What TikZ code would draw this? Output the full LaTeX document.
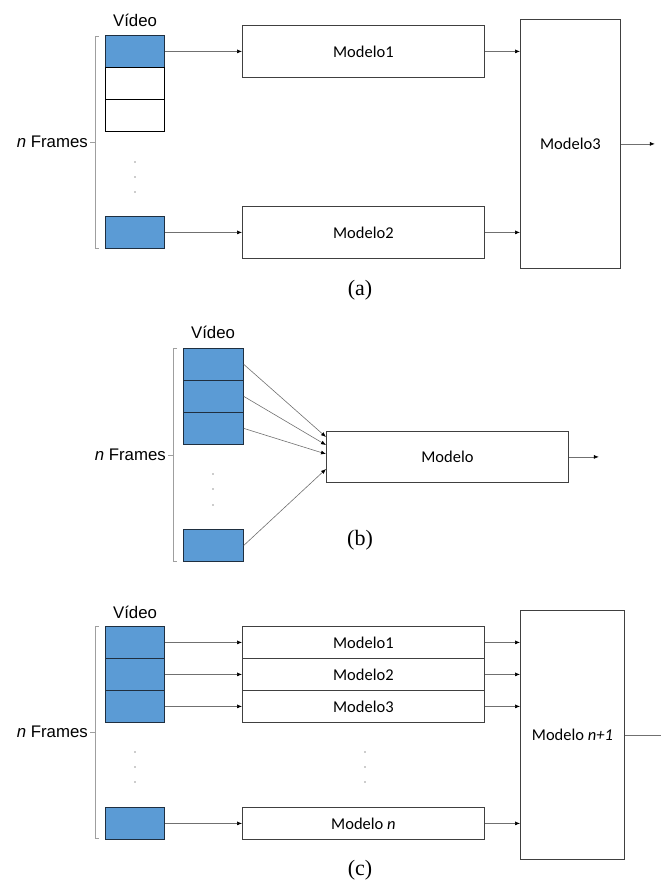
\documentclass[tikz,border=0pt]{standalone}
\usepackage{fontspec}
\usetikzlibrary{arrows.meta}
\newfontfamily\arialf{Liberation Sans}
\newfontfamily\calibf{Carlito}
\newfontfamily\timesf{Liberation Serif}
\definecolor{frameblue}{HTML}{5B9BD5}
\definecolor{frameedge}{HTML}{1F2F40}
\definecolor{boxedge}{HTML}{404040}
\definecolor{wire}{HTML}{707070}
\tikzset{
  framebox/.style={draw=frameedge, fill=frameblue, line width=0.8pt, inner sep=0pt,
    minimum width=59pt, minimum height=32pt, anchor=north west},
  blankframe/.style={framebox, draw=black, fill=white},
  modelbox/.style={draw=boxedge, fill=white, line width=0.8pt, inner sep=0pt,
    anchor=north west, font=\calibf\fontsize{16.5}{18}\selectfont},
  conn/.style={draw=wire, line width=0.6pt, -{Latex[length=5pt,width=4pt,color=black]}},
  plainwire/.style={draw=wire, line width=0.6pt},
  brace/.style={draw=gray!75, line width=0.8pt},
  sanslabel/.style={font=\arialf\fontsize{16.8}{18}\selectfont, inner sep=0pt},
  caption/.style={font=\timesf\fontsize{22}{24}\selectfont, inner sep=0pt},
  vdot/.style={fill=gray!80, draw=none, circle, inner sep=0pt, minimum size=1.6pt},
}
\begin{document}
\begin{tikzpicture}[x=1pt, y=-1pt]
\useasboundingbox (0,0) rectangle (661,882);

% ---------- (a) ----------
\node[sanslabel] (va) at (135,20) {Vídeo};
\node[framebox] (a1) at (105,35) {};
\node[blankframe] (a2) at (105,67) {};
\node[blankframe] (a3) at (105,99) {};
\node[framebox] (a4) at (105,216) {};
\foreach \yy [count=\i] in {162,177,192} \node[vdot] (ad\i) at (135,\yy) {};
\draw[brace] (99,36) -- (95,36) -- (95,248) -- (99,248) (95,142) -- (90,142);
\node[sanslabel, anchor=east] (nfa) at (88,142) {\textit{n} Frames};

\node[modelbox, minimum width=242pt, minimum height=52pt] (ma1) at (242,25) {Modelo1};
\node[modelbox, minimum width=242pt, minimum height=52pt] (ma2) at (242,206) {Modelo2};
\node[modelbox, minimum width=100pt, minimum height=249pt] (ma3) at (520,19) {Modelo3};

\draw[conn] (a1.east) -- (ma1.west);
\draw[conn] (a4.east) -- (ma2.west);
\draw[conn] (ma1.east) -- (ma1.east -| ma3.west);
\draw[conn] (ma2.east) -- (ma2.east -| ma3.west);
\coordinate (outa) at ([xshift=34pt]ma3.east);
\draw[conn] (ma3.east) -- (outa);
\node[caption] (capa) at (360,290) {(a)};

% ---------- (b) ----------
\node[sanslabel] (vb) at (213,332) {Vídeo};
\node[framebox, minimum width=60pt] (b1) at (183,348) {};
\node[framebox, minimum width=60pt] (b2) at (183,380) {};
\node[framebox, minimum width=60pt] (b3) at (183,412) {};
\node[framebox, minimum width=60pt] (b4) at (183,529) {};
\foreach \yy [count=\i] in {474,489,505} \node[vdot] (bd\i) at (213,\yy) {};
\draw[brace] (177,348) -- (173,348) -- (173,561) -- (177,561) (173,455) -- (168,455);
\node[sanslabel, anchor=east] (nfb) at (166,455) {\textit{n} Frames};

\node[modelbox, minimum width=242pt, minimum height=51pt] (mb) at (326,431) {Modelo};
\coordinate (tb1) at ([yshift=-6pt]mb.north west);
\coordinate (tb2) at ([yshift=-14pt]mb.north west);
\coordinate (tb3) at ([yshift=-23pt]mb.north west);
\coordinate (tb4) at ([yshift=-38pt]mb.north west);
\draw[conn] (b1.east) -- (tb1);
\draw[conn] (b2.east) -- (tb2);
\draw[conn] (b3.east) -- (tb3);
\draw[conn] (b4.east) -- (tb4);
\coordinate (outb) at ([xshift=30pt]mb.east);
\draw[conn] (mb.east) -- (outb);
\node[caption] (capb) at (360,540) {(b)};

% ---------- (c) ----------
\node[sanslabel] (vc) at (135,612) {Vídeo};
\node[framebox] (c1) at (105,626) {};
\node[framebox] (c2) at (105,658) {};
\node[framebox] (c3) at (105,690) {};
\node[framebox] (c4) at (105,807) {};
\foreach \yy [count=\i] in {752,767,782} {
  \node[vdot] (cd\i) at (135,\yy) {};
  \node[vdot] (md\i) at (365,\yy) {};
}
\draw[brace] (99,626) -- (95,626) -- (95,838) -- (99,838) (95,732) -- (90,732);
\node[sanslabel, anchor=east] (nfc) at (88,732) {\textit{n} Frames};

\node[modelbox, minimum width=242pt, minimum height=32pt] (mc1) at (242,626) {Modelo1};
\node[modelbox, minimum width=242pt, minimum height=32pt] (mc2) at (242,658) {Modelo2};
\node[modelbox, minimum width=242pt, minimum height=32pt] (mc3) at (242,690) {Modelo3};
\node[modelbox, minimum width=242pt, minimum height=32pt] (mc4) at (242,807) {Modelo \textit{n}};
\node[modelbox, minimum width=104pt, minimum height=249pt] (mcn) at (520,610) {Modelo \textit{n+1}};

\foreach \i in {1,2,3,4} {
  \draw[conn] (c\i.east) -- (mc\i.west);
  \draw[conn] (mc\i.east) -- (mc\i.east -| mcn.west);
}
\coordinate (outc) at (661,734);
\draw[plainwire] (mcn.east) -- (mcn.east -| outc);
\node[caption] (capc) at (360,870) {(c)};
\end{tikzpicture}
\end{document}
